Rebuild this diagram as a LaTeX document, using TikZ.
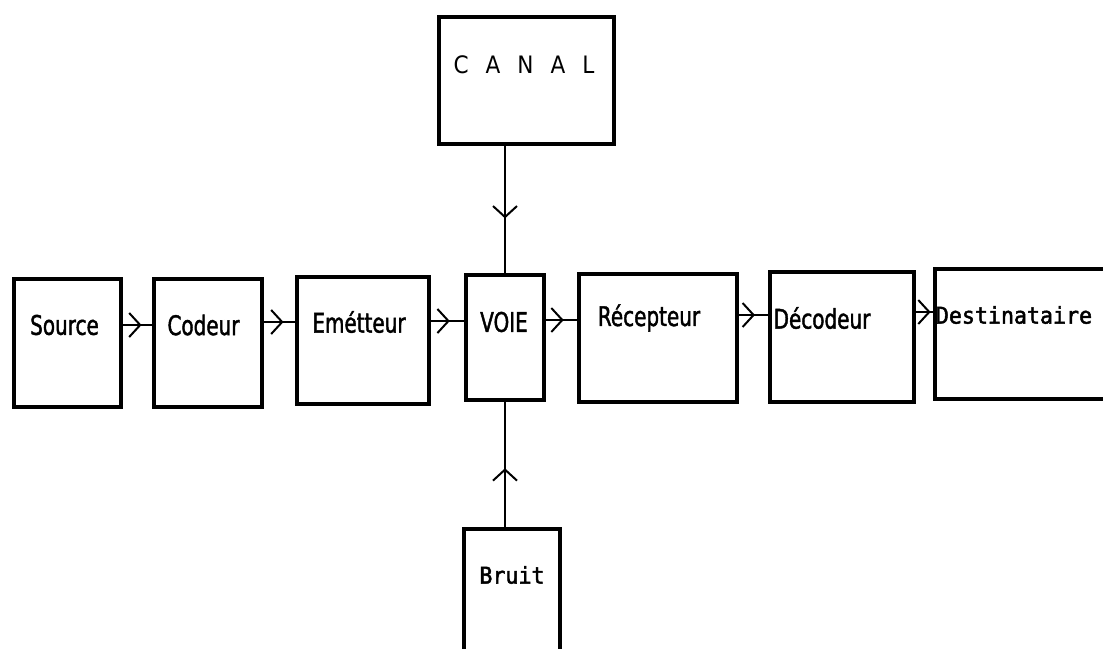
\documentclass[tikz,border=0pt]{standalone}
\usepackage{fontspec}
\newfontfamily\cond{DejaVu Sans}[FakeStretch=0.74,FakeBold=1.5]
\newfontfamily\plain{DejaVu Sans}[FakeStretch=0.9]
\newfontfamily\mono{DejaVu Sans Mono}[FakeStretch=0.94,FakeBold=2]
\usetikzlibrary{arrows.meta,decorations.markings}
\tikzset{
  box/.style={draw, line width=4pt, rectangle, anchor=north west, inner sep=0pt},
  lbl/.style={inner sep=0pt, font=\cond\fontsize{27}{30}\selectfont},
  clbl/.style={inner sep=0pt, font=\plain\fontsize{24}{28}\selectfont},
  mlbl/.style={inner sep=0pt, font=\mono\fontsize{23}{26}\selectfont},
  conn/.style={line width=2pt, postaction={decorate},
    decoration={markings, mark=at position #1 with {\arrow{Straight Barb[length=11pt,width=24pt,line width=2pt]}}}}
}
\begin{document}
\begin{tikzpicture}[x=1pt,y=-1pt]
\clip (0,0) rectangle (1103,648);
\fill[white] (0,0) rectangle (1103,648);
% boxes
\node[box, minimum width=107pt, minimum height=128pt] (src) at (12,277) {};
\node[box, minimum width=108pt, minimum height=128pt] (cod) at (152,277) {};
\node[box, minimum width=132pt, minimum height=127pt] (emt) at (295,275) {};
\node[box, minimum width=78pt, minimum height=125pt] (voie) at (464,273) {};
\node[box, minimum width=158pt, minimum height=128pt] (rec) at (577,272) {};
\node[box, minimum width=144pt, minimum height=130pt] (dec) at (768,270) {};
\node[box, minimum width=190pt, minimum height=130pt] (dst) at (933,267) {};
\node[box, minimum width=175pt, minimum height=127pt] (canal) at (437,15) {};
\node[box, minimum width=96pt, minimum height=140pt] (bruit) at (462,527) {};
% labels
\node[lbl] (srcT) at (64.5,325) {Source};
\node[lbl] (codT) at (203.5,325) {Codeur};
\node[lbl] (emtT) at (359,322) {Emétteur};
\node[lbl] (voieT) at (504,322) {VOIE};
\node[lbl] (recT) at (649,318) {Récepteur};
\node[lbl] (decT) at (822,318) {Décodeur};
\node[mlbl] (dstT) at (1014,315) {Destinataire};
\node[mlbl] (bruitT) at (512,575) {Bruit};
\node[clbl] (canalT) at (524,65) {C\hspace{17pt}A\hspace{17pt}N\hspace{17pt}A\hspace{17pt}L};
% connectors
\draw[conn=0.64] (src.east |- 0,325) -- (cod.west |- 0,325);
\draw[conn=0.63] (cod.east |- 0,322) -- (emt.west |- 0,322);
\draw[conn=0.57] (emt.east |- 0,321) -- (voie.west |- 0,321);
\draw[conn=0.57] (voie.east |- 0,320) -- (rec.west |- 0,320);
\draw[conn=0.55] (rec.east |- 0,315) -- (dec.west |- 0,315);
\draw[conn=0.86] (dec.east |- 0,312) -- (dst.west |- 0,312);
\draw[conn=0.57] (canal.south -| voie.north) -- (voie.north);
\draw[conn=0.47] (bruit.north -| voie.south) -- (voie.south);
\end{tikzpicture}
\end{document}
